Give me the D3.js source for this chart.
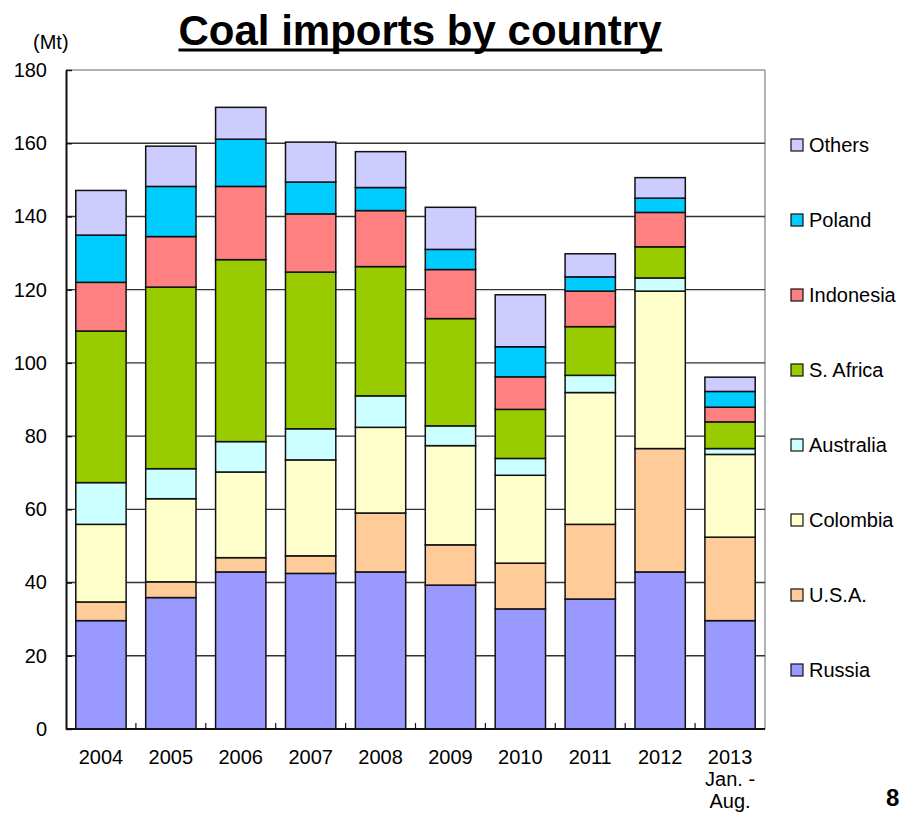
<!DOCTYPE html>
<html>
<head>
<meta charset="utf-8">
<script src="https://cdn.jsdelivr.net/npm/d3@7"></script>
<style>
  html, body { margin: 0; padding: 0; background: #fff; }
  svg { display: block; font-family: "Liberation Sans", Arial, sans-serif; }
</style>
</head>
<body>
<svg id="chart" width="902" height="813"></svg>
<script>
// Coal imports (Mt) by supplier country, 2004 – 2013 (Jan.–Aug.)
const years = ["2004", "2005", "2006", "2007", "2008", "2009", "2010", "2011", "2012", "2013"];
const yearLabels = [["2004"], ["2005"], ["2006"], ["2007"], ["2008"], ["2009"], ["2010"], ["2011"], ["2012"], ["2013", "Jan. -", "Aug."]];

const russia    = [29.6, 35.9, 42.9, 42.5, 42.9, 39.3, 32.8, 35.5, 42.9, 29.6];
const usa       = [5.1, 4.3, 3.9, 4.8, 16.1, 11.0, 12.5, 20.4, 33.7, 22.8];
const colombia  = [21.2, 22.7, 23.4, 26.2, 23.4, 27.1, 24.0, 36.0, 43.0, 22.6];
const australia = [11.4, 8.2, 8.3, 8.5, 8.6, 5.4, 4.6, 4.7, 3.6, 1.6];
const sAfrica   = [41.4, 49.6, 49.7, 42.8, 35.3, 29.3, 13.4, 13.3, 8.5, 7.3];
const indonesia = [13.3, 13.8, 20.0, 15.9, 15.3, 13.4, 8.9, 9.7, 9.4, 4.0];
const poland    = [12.9, 13.7, 12.9, 8.7, 6.3, 5.5, 8.2, 3.9, 3.9, 4.3];
const others    = [12.2, 11.0, 8.7, 10.9, 9.8, 11.5, 14.2, 6.3, 5.6, 3.9];

const seriesNames = ["Russia", "U.S.A.", "Colombia", "Australia", "S. Africa", "Indonesia", "Poland", "Others"];
const seriesValues = [russia, usa, colombia, australia, sAfrica, indonesia, poland, others];
const seriesColors = ["#9999FF", "#FFCC99", "#FFFFCC", "#CCFFFF", "#99CC00", "#FF8080", "#00CCFF", "#CCCCFF"];
const yTicks = [0, 20, 40, 60, 80, 100, 120, 140, 160, 180];

const svg = d3.select("#chart");
const plotLeft = 66, plotRight = 765, plotTop = 70, plotBottom = 729;

const x = d3.scaleBand().domain(years).range([plotLeft, plotRight]).paddingInner(0.28).paddingOuter(0.14);
const y = d3.scaleLinear().domain([0, 180]).range([plotBottom, plotTop]);
const color = d3.scaleOrdinal().domain(seriesNames).range(seriesColors);

// rows for stacking
const rows = years.map((yr, i) => {
  const r = { year: yr };
  seriesNames.forEach((n, k) => { r[n] = seriesValues[k][i]; });
  return r;
});
const stacked = d3.stack().keys(seriesNames)(rows);

// plot frame (grey top / right)
svg.append("line").attr("x1", plotLeft).attr("x2", plotRight).attr("y1", y(180)).attr("y2", y(180))
  .attr("stroke", "#999").attr("stroke-width", 1.5);
svg.append("line").attr("x1", plotRight).attr("x2", plotRight).attr("y1", plotTop).attr("y2", plotBottom)
  .attr("stroke", "#999").attr("stroke-width", 1.5);

// gridlines
svg.append("g").selectAll("line").data(yTicks.filter(t => t > 0 && t < 180)).join("line")
  .attr("x1", plotLeft).attr("x2", plotRight)
  .attr("y1", d => y(d)).attr("y2", d => y(d))
  .attr("stroke", "#333").attr("stroke-width", 1.4);

// bars
svg.append("g").selectAll("g").data(stacked).join("g")
  .attr("fill", d => color(d.key))
  .selectAll("rect").data(d => d).join("rect")
  .attr("x", d => x(d.data.year))
  .attr("width", x.bandwidth())
  .attr("y", d => y(d[1]))
  .attr("height", d => y(d[0]) - y(d[1]))
  .attr("stroke", "#111").attr("stroke-width", 1.5);

// y axis
const yAxis = d3.axisLeft(y).tickValues(yTicks).tickSizeInner(-6).tickSizeOuter(0).tickPadding(19);
const gy = svg.append("g").attr("transform", `translate(${plotLeft},0)`).call(yAxis);
gy.select(".domain").attr("stroke", "#111").attr("stroke-width", 2);
gy.selectAll(".tick line").attr("stroke", "#111").attr("stroke-width", 1.4);
gy.selectAll(".tick text").attr("font-size", 20).attr("fill", "#000")
  .attr("font-family", "'Liberation Sans', Arial, sans-serif");

// x axis: ticks between categories pointing upward
svg.append("line").attr("x1", plotLeft).attr("x2", plotRight).attr("y1", plotBottom).attr("y2", plotBottom)
  .attr("stroke", "#111").attr("stroke-width", 2);
const step = x.step();
svg.append("g").selectAll("line").data(years.slice(1)).join("line")
  .attr("x1", d => x(d) - (step - x.bandwidth()) / 2)
  .attr("x2", d => x(d) - (step - x.bandwidth()) / 2)
  .attr("y1", plotBottom).attr("y2", plotBottom - 6)
  .attr("stroke", "#111").attr("stroke-width", 1.2);

svg.append("g").selectAll("text").data(years).join("text")
  .attr("x", d => x(d) + x.bandwidth() / 2)
  .attr("y", 764)
  .attr("text-anchor", "middle")
  .attr("font-size", 20)
  .each(function (d, i) {
    const t = d3.select(this);
    yearLabels[i].forEach((line, j) => {
      t.append("tspan").attr("x", x(d) + x.bandwidth() / 2).attr("dy", j === 0 ? 0 : 22).text(line);
    });
  });

// unit
svg.append("text").attr("x", 33).attr("y", 49).attr("font-size", 20).text("(Mt)");

// title
const title = svg.append("text").attr("x", 420).attr("y", 45)
  .attr("text-anchor", "middle").attr("font-size", 42).attr("font-weight", "bold")
  .text("Coal imports by country");
const tb = title.node().getBBox();
svg.append("line").attr("x1", tb.x).attr("x2", tb.x + tb.width).attr("y1", 50).attr("y2", 50)
  .attr("stroke", "#000").attr("stroke-width", 3);

// legend (top to bottom: Others ... Russia)
const legendNames = seriesNames.slice().reverse();
const lg = svg.append("g").selectAll("g").data(legendNames).join("g")
  .attr("transform", (d, i) => `translate(791,${145 + i * 75})`);
lg.append("rect").attr("x", 0).attr("y", -6).attr("width", 12).attr("height", 12)
  .attr("fill", d => color(d)).attr("stroke", "#111").attr("stroke-width", 1.2);
lg.append("text").attr("x", 18).attr("y", 7).attr("font-size", 20).text(d => d);

// page number
svg.append("text").attr("x", 886).attr("y", 806).attr("font-size", 24).attr("font-weight", "bold").text("8");
</script>
</body>
</html>
